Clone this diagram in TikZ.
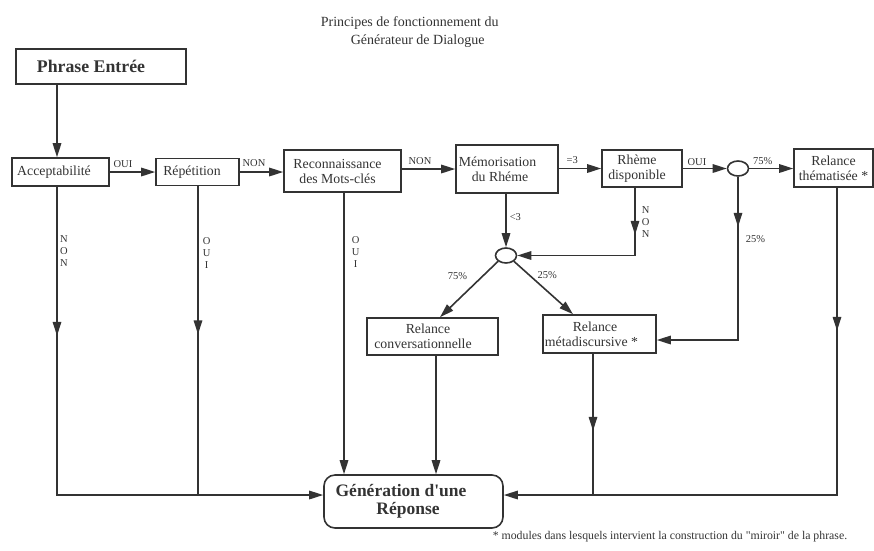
\documentclass[tikz,border=0pt]{standalone}
\usepackage{fontspec}
\setmainfont{Liberation Serif}
\usetikzlibrary{arrows.meta,shapes.geometric,decorations.markings}
\newcommand\rpad{\hspace*{10pt}}
\begin{document}
\begin{tikzpicture}[x=1pt,y=-1pt,line width=1.6pt,color=black!80,
box/.style={draw,inner sep=0pt,align=center,font=\fontsize{13.8}{15}\selectfont},
ov/.style={draw,ellipse,inner sep=0pt,minimum width=21pt,minimum height=15pt},
lbl/.style={inner sep=0pt,align=center,font=\fontsize{10.5}{12}\selectfont},
arr/.style={-{Triangle[length=14pt,width=8.5pt]}},
midarr/.style={postaction={decorate},decoration={markings,
  mark=at position #1 with {\arrow{Triangle[length=14pt,width=8.5pt]}}}}]
\useasboundingbox(0,0)rectangle(874,550);
\node[inner sep=0pt,anchor=base west,font=\fontsize{14}{16}\selectfont](titre1)at(320,26){Principes de fonctionnement du};
\node[inner sep=0pt,anchor=base west,font=\fontsize{14}{16}\selectfont](titre2)at(350,44){Générateur de Dialogue};
\node[box,minimum width=170pt,minimum height=35pt,font=\bfseries\fontsize{17.8}{20}\selectfont](entree)at(101,66.5){Phrase Entrée\hspace*{20pt}};
\node[box,minimum width=97pt,minimum height=28pt](accept)at(60.5,172){Acceptabilité\hspace*{13pt}};
\node[box,minimum width=83pt,minimum height=27pt](repet)at(197.5,172){Répétition\hspace*{11pt}};
\node[box,minimum width=117pt,minimum height=42pt](reconn)at(342.5,171){Reconnaissance\rpad\\des Mots-clés\rpad};
\node[box,minimum width=102pt,minimum height=48pt](memo)at(507,169){Mémorisation\hspace*{19pt}\\du Rhéme\hspace*{14pt}};
\node[box,minimum width=80pt,minimum height=37pt](rheme)at(642,168.5){Rhème\rpad\\disponible\rpad};
\node[ov](c1)at(738,168.5){};
\node[box,minimum width=79pt,minimum height=38pt](thema)at(833.5,168){Relance\\thématisée *};
\node[ov](c2)at(506,255.5){};
\node[box,minimum width=131pt,minimum height=37pt](conv)at(432.5,336.5){Relance\hspace*{9pt}\\conversationnelle\hspace*{19pt}};
\node[box,minimum width=113pt,minimum height=38pt](meta)at(599.5,334){Relance\hspace*{9pt}\\métadiscursive *\hspace*{16pt}};
\node[box,rounded corners=11pt,minimum width=179pt,minimum height=53pt,font=\bfseries\fontsize{17.5}{18}\selectfont](gen)at(413.5,501.5){Génération d\textquotesingle une\hspace*{25pt}\\Réponse\hspace*{11pt}};
\node[inner sep=0pt,anchor=base west,font=\fontsize{11.8}{13}\selectfont](note)at(492,539){* modules dans lesquels intervient la construction du \textquotedbl miroir\textquotedbl{} de la phrase.};
\coordinate(xa)at(57,495);
\coordinate(xr)at(198,495);
\coordinate(xk)at(344,495);
\coordinate(xc)at(436,495);
\coordinate(xm)at(593,495);
\coordinate(xt)at(837,495);
\coordinate(xv)at(738,340);
\coordinate(xn)at(635,255.5);
\draw[arr](entree.south-|xa)--(accept.north-|xa);
\draw[arr](accept)--node[lbl,pos=0,anchor=south west,xshift=3pt,yshift=3.5pt](l1){OUI}(repet);
\draw[arr](repet)--node[lbl,pos=0,anchor=south west,xshift=2pt,yshift=5pt](l2){NON}(repet-|reconn.west);
\draw[arr](reconn.east|-memo)--node[lbl,pos=0,anchor=south west,xshift=6pt,yshift=3.5pt](l3){NON}(memo);
\draw[arr](memo.east|-rheme)--node[lbl,pos=0,anchor=south west,xshift=7pt,yshift=4pt](l4){=3}(rheme);
\draw[arr](rheme)--node[lbl,pos=0,anchor=south west,xshift=4pt,yshift=2pt](l5){OUI}(c1);
\draw[arr](c1)--node[lbl,pos=0,anchor=south west,xshift=3pt,yshift=3pt](l6){75\%}(c1-|thema.west);
\draw[arr,midarr=50pt](c1.south)--node[lbl,pos=.38,right,xshift=7pt](l7){25\%}(xv)--(xv-|meta.east);
\draw[arr,midarr=47pt](rheme.south-|xn)--node[lbl,midway,right,xshift=6pt](l8){N\\O\\N}(xn)--(c2.east);
\draw[arr](memo.south-|c2)--node[lbl,pos=.43,right,xshift=3pt](l9){<3}(c2.north);
\draw[arr](c2.south west)--node[lbl,pos=.27,left,xshift=-14.5pt](l10){75\%}([xshift=7.5pt]conv.north);
\draw[arr](c2.south east)--node[lbl,pos=.26,right,xshift=7.5pt](l11){25\%}([xshift=-26.5pt]meta.north);
\draw[arr,midarr=149pt](accept.south-|xa)--node[lbl,pos=.21,right,xshift=2.2pt](l12){N\\O\\N}(xa)--(gen.west|-xa);
\draw[midarr=148pt](repet.south-|xr)--node[lbl,pos=.215,right,xshift=4pt](l13){O\\U\\I}(xr);
\draw[arr](reconn.south-|xk)--node[lbl,pos=.21,right,xshift=7pt](l14){O\\U\\I}(gen.north-|xk);
\draw[arr](conv.south-|xc)--(gen.north-|xc);
\draw[midarr=77pt](meta.south-|xm)--(xm);
\draw[arr,midarr=143pt](thema.south-|xt)--(xt)--(gen.east|-xt);
\end{tikzpicture}
\end{document}
